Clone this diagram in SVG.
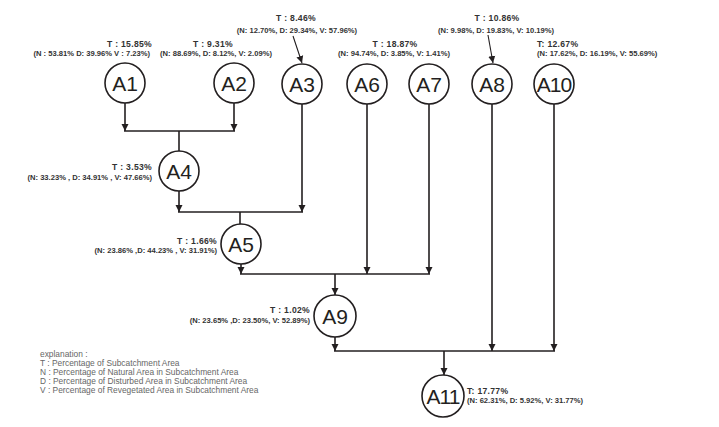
<svg xmlns="http://www.w3.org/2000/svg" width="719" height="427" viewBox="0 0 719 427">
<defs>
<marker id="ah" viewBox="0 0 10 10" refX="10" refY="5" markerWidth="7" markerHeight="8" markerUnits="userSpaceOnUse" orient="auto">
<path d="M0,0 L10,5 L0,10 z" fill="#231f20"/>
</marker>
</defs>
<style>
.n circle{fill:#fff;stroke:#231f20;stroke-width:1.6}
.n text.id{font-family:"Liberation Sans",Arial,sans-serif;font-size:21px;fill:#231f20;text-anchor:middle}
.lb{font-family:"Liberation Sans",Arial,sans-serif;font-weight:bold;fill:#333;font-size:7.6px}
.t{font-size:8.6px;letter-spacing:0.3px}
.c line{stroke:#231f20;stroke-width:1.6;fill:none}
.c line.a{marker-end:url(#ah)}
.ex{font-family:"Liberation Sans",Arial,sans-serif;font-size:8.4px;fill:#666}
</style>
<rect width="719" height="427" fill="#fff"/>
<g class="c" id="connectors">
<line class="a" x1="125" y1="103" x2="125" y2="131"/>
<line class="a" x1="234" y1="103" x2="234" y2="131"/>
<line x1="124" y1="131" x2="235" y2="131"/>
<line x1="179" y1="131" x2="179" y2="151"/>
<line class="a" x1="179" y1="191" x2="179" y2="212"/>
<line class="a" x1="302" y1="104" x2="302" y2="212"/>
<line x1="178" y1="212" x2="303" y2="212"/>
<line x1="240" y1="212" x2="240" y2="224"/>
<line class="a" x1="241" y1="264" x2="241" y2="274"/>
<line class="a" x1="367" y1="104" x2="367" y2="274"/>
<line class="a" x1="429" y1="104" x2="429" y2="274"/>
<line x1="240" y1="274" x2="430" y2="274"/>
<line class="a" x1="335" y1="274" x2="335" y2="295"/>
<line class="a" x1="335" y1="337" x2="335" y2="351"/>
<line class="a" x1="492" y1="104" x2="492" y2="351"/>
<line class="a" x1="554" y1="104" x2="554" y2="351"/>
<line x1="334" y1="351" x2="555" y2="351"/>
<line class="a" x1="444" y1="351" x2="444" y2="375"/>
<line class="a" x1="293" y1="36" x2="302" y2="63" style="stroke-width:1.1"/>
<line class="a" x1="488" y1="35" x2="493" y2="63" style="stroke-width:1.1"/>
</g>
<g class="n" id="A1"><circle cx="125" cy="83" r="20"/><text class="id" x="125" y="91">A1</text>
<text class="lb t" x="152" y="47" text-anchor="end">T : 15.85%</text><text class="lb" x="150" y="56" text-anchor="end">(N : 53.81% D: 39.96% V : 7.23%)</text></g>
<g class="n" id="A2"><circle cx="234" cy="83" r="20"/><text class="id" x="234" y="91">A2</text>
<text class="lb t" x="213" y="47" text-anchor="middle">T : 9.31%</text><text class="lb" x="216" y="56" text-anchor="middle">(N: 88.69%, D: 8.12%, V: 2.09%)</text></g>
<g class="n" id="A3"><circle cx="302" cy="84" r="20"/><text class="id" x="302" y="92">A3</text>
<text class="lb t" x="296" y="21" text-anchor="middle">T : 8.46%</text><text class="lb" x="297" y="33" text-anchor="middle">(N: 12.70%, D: 29.34%, V: 57.96%)</text></g>
<g class="n" id="A6"><circle cx="367" cy="84" r="20"/><text class="id" x="367" y="92">A6</text></g>
<g class="n" id="A7"><circle cx="429" cy="84" r="20"/><text class="id" x="429" y="92">A7</text>
<text class="lb t" x="395" y="47" text-anchor="middle">T : 18.87%</text><text class="lb" x="394" y="56" text-anchor="middle">(N: 94.74%, D: 3.85%, V: 1.41%)</text></g>
<g class="n" id="A8"><circle cx="492" cy="84" r="20"/><text class="id" x="492" y="92">A8</text>
<text class="lb t" x="497" y="21" text-anchor="middle">T : 10.86%</text><text class="lb" x="496" y="33" text-anchor="middle">(N: 9.98%, D: 19.83%, V: 10.19%)</text></g>
<g class="n" id="A10"><circle cx="554" cy="84" r="20"/><text class="id" x="554" y="92" style="letter-spacing:-1px">A10</text>
<text class="lb t" x="537" y="47">T: 12.67%</text><text class="lb" x="537" y="56">(N: 17.62%, D: 16.19%, V: 55.69%)</text></g>
<g class="n" id="A4"><circle cx="179" cy="171" r="20"/><text class="id" x="179" y="179">A4</text>
<text class="lb t" x="152" y="170" text-anchor="end">T : 3.53%</text><text class="lb" x="152" y="180" text-anchor="end">(N: 33.23% , D: 34.91% , V: 47.66%)</text></g>
<g class="n" id="A5"><circle cx="241" cy="244" r="20"/><text class="id" x="241" y="252">A5</text>
<text class="lb t" x="217" y="244" text-anchor="end">T : 1.66%</text><text class="lb" x="217" y="253" text-anchor="end">(N: 23.86% ,D: 44.23% , V: 31.91%)</text></g>
<g class="n" id="A9"><circle cx="335" cy="316" r="21"/><text class="id" x="335" y="324">A9</text>
<text class="lb t" x="310" y="313" text-anchor="end">T : 1.02%</text><text class="lb" x="310" y="323" text-anchor="end">(N: 23.65% ,D: 23.50%, V: 52.89%)</text></g>
<g class="n" id="A11"><circle cx="443" cy="396" r="21"/><text class="id" x="443" y="404" style="letter-spacing:-1px">A11</text>
<text class="lb t" x="467" y="394">T: 17.77%</text><text class="lb" x="467" y="403">(N: 62.31%, D: 5.92%, V: 31.77%)</text></g>
<g id="explanation" class="ex">
<text x="40" y="357">explanation :</text>
<text x="40" y="366">T : Percentage of Subcatchment Area</text>
<text x="40" y="375">N : Percentage of Natural Area  in Subcatchment Area</text>
<text x="40" y="384">D : Percentage of Disturbed Area in Subcatchment Area</text>
<text x="40" y="393">V : Percentage of Revegetated Area in Subcatchment Area</text>
</g>
</svg>
